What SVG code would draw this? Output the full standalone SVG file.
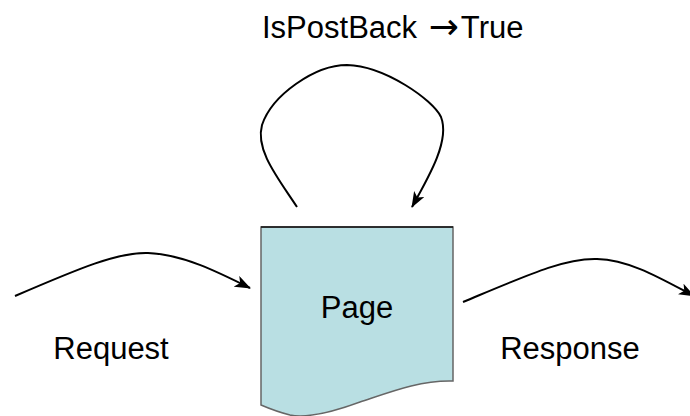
<svg xmlns="http://www.w3.org/2000/svg" width="690" height="416" viewBox="0 0 690 416">
<style>
.lbl{font-family:"Liberation Sans",Arial,sans-serif;font-size:31px;fill:#000}
.arr{font-family:"DejaVu Sans",sans-serif;font-size:36px}
.conn{fill:none;stroke:#000;stroke-width:2}
</style>
<defs>
<marker id="ah" viewBox="0 0 16 12" refX="15" refY="6" markerWidth="16" markerHeight="12" markerUnits="userSpaceOnUse" orient="auto">
<path d="M16,6 L0,0 L4,6 L0,12 Z" fill="#000"/>
</marker>
</defs>
<rect width="690" height="416" fill="#fff"/>
<g id="title">
<text class="lbl" x="262" y="38">IsPostBack <tspan class="arr" dx="3" dy="1">→</tspan><tspan dx="2" dy="-1">True</tspan></text>
</g>
<g id="page">
<path d="M261,227 L453,227 L453,381 C420,380 390,392 360,402 C330,413 305,418 290,415 C278,412 268,408 261,405 Z" fill="#B9DFE3" stroke="#666" stroke-width="1.5"/>
<line x1="261" y1="227" x2="453" y2="227" stroke="#111" stroke-width="1.5"/>
<text class="lbl" x="357" y="318" text-anchor="middle">Page</text>
</g>
<g id="request-label">
<text class="lbl" x="111" y="359" text-anchor="middle">Request</text>
</g>
<g id="response-label">
<text class="lbl" x="570" y="359" text-anchor="middle">Response</text>
</g>
<g id="connectors">
<path class="conn" d="M15,296 C80,268 118,252 148,253 C182,254 218,272 250,288" marker-end="url(#ah)"/>
<path class="conn" d="M463,302 C530,274 565,258 597,259 C630,260 660,278 694,296" marker-end="url(#ah)"/>
<path class="conn" d="M297,207 C278,178 255,150 262,125 C272,95 315,65 347,65 C385,66 433,100 441,117 C450,140 430,175 412,207" marker-end="url(#ah)"/>
</g>
</svg>
